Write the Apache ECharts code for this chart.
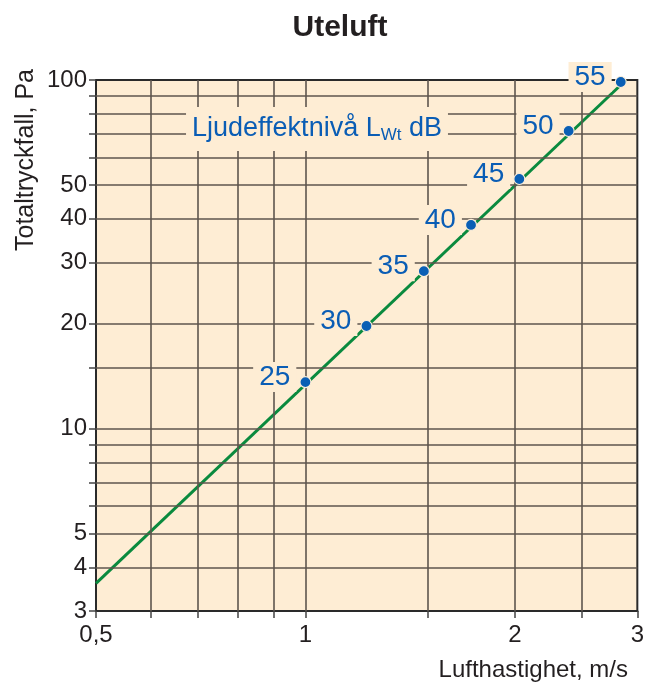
<!DOCTYPE html>
<html><head><meta charset="utf-8">
<script src="https://cdn.jsdelivr.net/npm/echarts@6/dist/echarts.min.js"></script>
<style>html,body{margin:0;padding:0;background:#fff}#c{width:647px;height:685px}</style>
</head><body><div id="c"></div>
<script>
const titleText = 'Uteluft';
const xName = 'Lufthastighet, m/s';
const yName = 'Totaltryckfall, Pa';
const noteParts = ['Ljudeffektnivå L', 'Wt', ' dB'];
const xGrid = [0.6, 0.7, 0.8, 0.9, 1, 1.5, 2, 2.5];
const yGrid = [4, 5, 6, 7, 8, 9, 10, 15, 20, 30, 40, 50, 60, 70, 80, 90];
const xTicks = [0.5, 0.6, 0.7, 0.8, 0.9, 1, 1.5, 2, 2.5, 3];
const yTicks = [3, 4, 5, 6, 7, 8, 9, 10, 15, 20, 30, 40, 50, 60, 70, 80, 90, 100];
const xLabels = [0.5, 1, 2, 3];
const yLabels = [3, 4, 5, 10, 20, 30, 40, 50, 100];
const lineX = [0.5, 2.89];
const lineY = [3.6, 100];
const dbLevels = [25, 30, 35, 40, 45, 50, 55];
const pointX = [1.0, 1.224, 1.48, 1.73, 2.03, 2.39, 2.84];
const pointY = [13.6, 19.7, 28.3, 38.4, 52.0, 71.4, 98.7];

const FONT = '"Liberation Sans", Arial, sans-serif';
const cream = '#feedd4';
const blue = '#0a5db5';
const gridColor = '#5e554e';

const chart = echarts.init(document.getElementById('c'), null, {renderer: 'canvas'});
chart.setOption({
  backgroundColor: '#ffffff',
  animation: false,
  textStyle: {fontFamily: FONT},
  grid: {left: 96, right: 9, top: 80, bottom: 74, show: true, backgroundColor: cream, borderColor: '#2a2a2a', borderWidth: 2, containLabel: false},
  xAxis: {
    type: 'log', logBase: 10, min: 0.5, max: 3,
    axisLine: {show: true, onZero: false, lineStyle: {color: '#2a2a2a', width: 2}},
    axisTick: {show: true, customValues: xTicks, length: 7, lineStyle: {color: '#444', width: 1.5}},
    axisLabel: {show: true, customValues: xLabels, margin: 12, fontSize: 24, color: '#231f20', fontFamily: FONT,
      formatter: v => String(v).replace('.', ',')},
    splitLine: {show: false}, minorTick: {show: false}, minorSplitLine: {show: false}
  },
  yAxis: {
    type: 'log', logBase: 10, min: 3, max: 100,
    axisLine: {show: true, onZero: false, lineStyle: {color: '#2a2a2a', width: 2}},
    axisTick: {show: true, customValues: yTicks, length: 7, lineStyle: {color: '#444', width: 1.5}},
    axisLabel: {show: true, customValues: yLabels, margin: 9, fontSize: 24, color: '#231f20', fontFamily: FONT},
    splitLine: {show: false}, minorTick: {show: false}, minorSplitLine: {show: false}
  },
  graphic: [
    {type: 'text', x: 340, y: 28, style: {text: titleText, font: 'bold 30px ' + FONT, fill: '#231f20', align: 'center', verticalAlign: 'middle'}, z: 10},
    {type: 'text', x: 26, y: 160, rotation: Math.PI / 2, style: {text: yName, font: '25px ' + FONT, fill: '#231f20', align: 'center', verticalAlign: 'middle'}, z: 10},
    {type: 'text', x: 628, y: 670, style: {text: xName, font: '24px ' + FONT, fill: '#231f20', align: 'right', verticalAlign: 'middle'}, z: 10},
    {type: 'text', x: 317, y: 129, z: 20, style: {
      text: '{a|' + noteParts[0] + '}{s|' + noteParts[1] + '}{a|' + noteParts[2] + '}',
      align: 'center', verticalAlign: 'middle', backgroundColor: cream, padding: [7, 6, 7, 6],
      rich: {
        a: {fontSize: 27, fontFamily: FONT, fill: blue, lineHeight: 30},
        s: {fontSize: 17, fontFamily: FONT, fill: blue, lineHeight: 30, verticalAlign: 'bottom', padding: [10, 0, 0, 0]}
      }
    }}
  ],
  series: [
    {
      type: 'line', data: [], z: 1, silent: true,
      markLine: {
        silent: true, symbol: 'none', animation: false, label: {show: false},
        lineStyle: {color: gridColor, width: 1.6, type: 'solid'},
        emphasis: {disabled: true},
        data: xGrid.map(v => ({xAxis: v})).concat(yGrid.map(v => ({yAxis: v})))
      }
    },
    {
      type: 'line', z: 3, silent: true, showSymbol: false, symbol: 'none',
      lineStyle: {color: '#0a8a3e', width: 3},
      data: lineX.map((x, i) => [x, lineY[i]])
    },
    {
      type: 'scatter', z: 5, silent: true, symbolSize: 11,
      itemStyle: {color: '#0a5fb5', borderColor: '#fdeed8', borderWidth: 1.2, opacity: 1},
      label: {show: true, position: 'left', distance: 3, offset: [0, -5], fontSize: 28, fontFamily: FONT, color: blue,
        textBorderWidth: 0, opacity: 1,
        backgroundColor: cream, padding: [1, 6, 1, 6], formatter: p => String(p.value[2])},
      data: pointX.map((x, i) => [x, pointY[i], dbLevels[i]])
    }
  ]
});
</script></body></html>
